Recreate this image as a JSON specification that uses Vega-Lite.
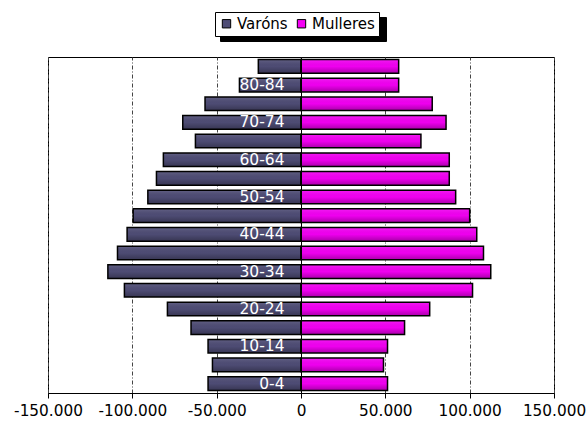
{
  "$schema": "https://vega.github.io/schema/vega-lite/v6.json",
  "autosize": {"type": "none"},
  "padding": {"left": 48, "top": 57, "right": 33, "bottom": 31},
  "width": 506,
  "height": 336,
  "config": {
    "font": "DejaVu Sans",
    "view": {"stroke": "black", "strokeWidth": 1},
    "locale": {"number": {"decimal": ",", "thousands": ".", "grouping": [3], "currency": ["", " €"], "minus": "-"}}
  },
  "data": {"values": [
    {"age": "0-4", "sex": "Varóns", "value": -55100}, {"age": "0-4", "sex": "Mulleres", "value": 51300},
    {"age": "5-9", "sex": "Varóns", "value": -52500}, {"age": "5-9", "sex": "Mulleres", "value": 48900},
    {"age": "10-14", "sex": "Varóns", "value": -55100}, {"age": "10-14", "sex": "Mulleres", "value": 51300},
    {"age": "15-19", "sex": "Varóns", "value": -65200}, {"age": "15-19", "sex": "Mulleres", "value": 61400},
    {"age": "20-24", "sex": "Varóns", "value": -79200}, {"age": "20-24", "sex": "Mulleres", "value": 76300},
    {"age": "25-29", "sex": "Varóns", "value": -104700}, {"age": "25-29", "sex": "Mulleres", "value": 101700},
    {"age": "30-34", "sex": "Varóns", "value": -114500}, {"age": "30-34", "sex": "Mulleres", "value": 112500},
    {"age": "35-39", "sex": "Varóns", "value": -108800}, {"age": "35-39", "sex": "Mulleres", "value": 108200},
    {"age": "40-44", "sex": "Varóns", "value": -103100}, {"age": "40-44", "sex": "Mulleres", "value": 104200},
    {"age": "45-49", "sex": "Varóns", "value": -99500}, {"age": "45-49", "sex": "Mulleres", "value": 100000},
    {"age": "50-54", "sex": "Varóns", "value": -90800}, {"age": "50-54", "sex": "Mulleres", "value": 91700},
    {"age": "55-59", "sex": "Varóns", "value": -85700}, {"age": "55-59", "sex": "Mulleres", "value": 87900},
    {"age": "60-64", "sex": "Varóns", "value": -81600}, {"age": "60-64", "sex": "Mulleres", "value": 87900},
    {"age": "65-69", "sex": "Varóns", "value": -62600}, {"age": "65-69", "sex": "Mulleres", "value": 71100},
    {"age": "70-74", "sex": "Varóns", "value": -70100}, {"age": "70-74", "sex": "Mulleres", "value": 86000},
    {"age": "75-79", "sex": "Varóns", "value": -56900}, {"age": "75-79", "sex": "Mulleres", "value": 77800},
    {"age": "80-84", "sex": "Varóns", "value": -36500}, {"age": "80-84", "sex": "Mulleres", "value": 57900},
    {"age": "85+", "sex": "Varóns", "value": -25300}, {"age": "85+", "sex": "Mulleres", "value": 57900}
  ]},
  "encoding": {
    "y": {
      "field": "age", "type": "nominal",
      "sort": ["85+", "80-84", "75-79", "70-74", "65-69", "60-64", "55-59", "50-54", "45-49", "40-44", "35-39", "30-34", "25-29", "20-24", "15-19", "10-14", "5-9", "0-4"],
      "scale": {"paddingInner": 0.27, "paddingOuter": 0.14},
      "axis": {
        "title": null, "orient": "left", "offset": -253, "zindex": 1,
        "values": ["80-84", "70-74", "60-64", "50-54", "40-44", "30-34", "20-24", "10-14", "0-4"],
        "labelColor": "white", "labelFontSize": 15.5, "labelPadding": 17,
        "ticks": false, "domain": true, "domainColor": "black", "domainWidth": 1, "grid": false
      }
    },
    "x": {
      "field": "value", "type": "quantitative",
      "scale": {"domain": [-150000, 150000], "nice": false},
      "axis": {
        "title": null, "values": [-150000, -100000, -50000, 0, 50000, 100000, 150000],
        "format": ",.0f", "labelFontSize": 15.3, "labelColor": "black", "labelPadding": 5,
        "labelOverlap": false, "labelFlush": false,
        "tickColor": "black", "tickSize": 5, "domainColor": "black",
        "grid": true, "gridColor": "#444444", "gridDash": [4, 2, 1, 2], "gridWidth": 1
      }
    }
  },
  "layer": [
    {
      "mark": {"type": "point", "opacity": 0},
      "encoding": {
        "shape": {
          "field": "sex", "type": "nominal",
          "scale": {"range": ["square", "square"]},
          "legend": {
            "title": null, "orient": "none", "legendX": 172, "legendY": -40, "zindex": 0,
            "direction": "horizontal", "fillColor": "black", "strokeColor": "black",
            "padding": 4, "symbolSize": 70, "symbolFillColor": "black",
            "symbolStrokeColor": "black", "symbolStrokeWidth": 1, "symbolOpacity": 1,
            "labelExpr": "''", "labelFontSize": 15, "labelColor": "black", "labelOffset": 60.5, "columnPadding": 6
          }
        }
      }
    },
    {
      "mark": {"type": "bar"},
      "encoding": {
        "color": {
          "field": "sex", "type": "nominal",
          "scale": {"domain": ["Varóns", "Mulleres"], "range": ["#4f4d76", "#f400f4"]},
          "legend": {
            "title": null, "orient": "none", "legendX": 167, "legendY": -45, "zindex": 1,
            "direction": "horizontal", "fillColor": "white", "strokeColor": "black",
            "padding": 4, "symbolType": "square", "symbolSize": 70,
            "symbolStrokeColor": "black", "symbolStrokeWidth": 1, "symbolOpacity": 1,
            "labelFontSize": 15, "labelColor": "black", "labelOffset": 3, "columnPadding": 6
          }
        }
      }
    },
    {
      "mark": {
        "type": "bar", "stroke": "black", "strokeWidth": 1.5,
        "fill": {"gradient": "linear", "x1": 0, "y1": 0, "x2": 0, "y2": 1,
          "stops": [
            {"offset": 0, "color": "rgba(255,255,255,0.12)"},
            {"offset": 0.5, "color": "rgba(0,0,0,0.02)"},
            {"offset": 1, "color": "rgba(0,0,0,0.3)"}
          ]}
      },
      "encoding": {}
    }
  ]
}
